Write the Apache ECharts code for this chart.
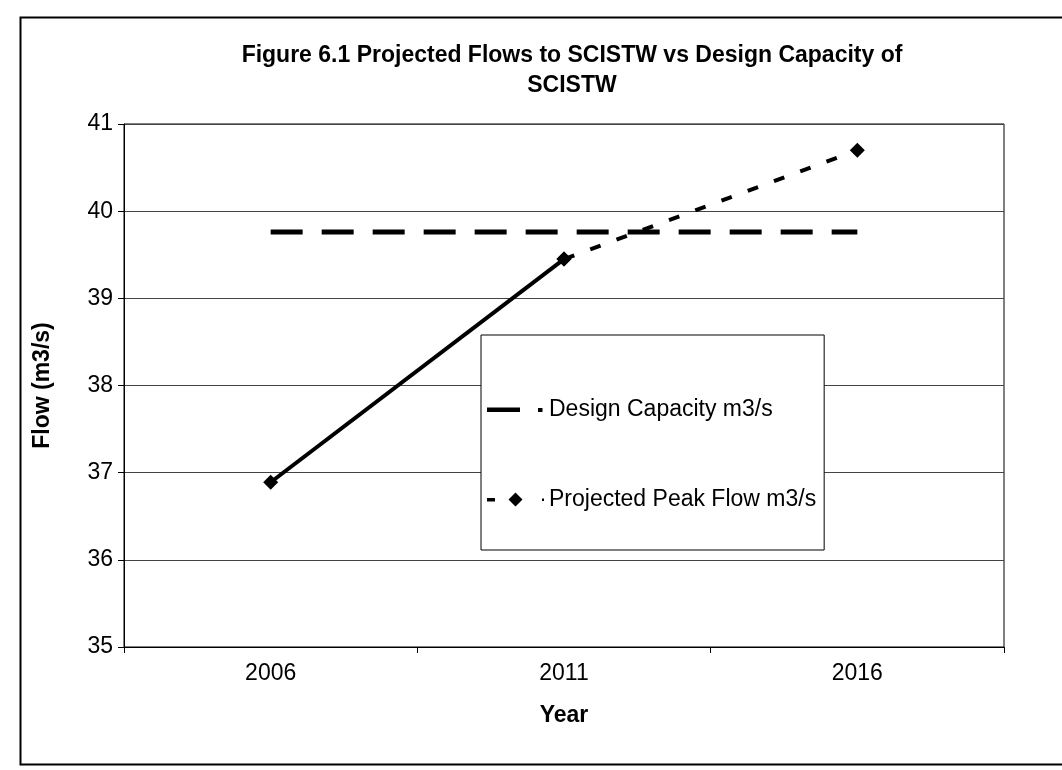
<!DOCTYPE html>
<html lang="en">
<head>
  <meta charset="utf-8"/>
  <title>Figure 6.1 Projected Flows to SCISTW</title>
  <script src="https://cdn.jsdelivr.net/npm/echarts@6/dist/echarts.min.js"></script>
  <style>
    html, body { margin: 0; padding: 0; background: #fff; }
    #chart { width: 1062px; height: 770px; }
  </style>
</head>
<body>
<div id="chart"></div>
<script>
  // data
  var years = ['2006', '2011', '2016'];
  var designCapacity = [39.76, 39.76, 39.76];
  var peakFlow = [36.89, 39.45, 40.70];
  var yTicks = [35, 36, 37, 38, 39, 40, 41];

  // 2006 -> 2011 is drawn solid, 2011 -> 2016 dashed (projection)
  var peakSolid = peakFlow.map(function (v, i) { return i <= 1 ? v : '-'; });
  var peakDashed = peakFlow.map(function (v, i) { return i >= 1 ? v : '-'; });

  // legend icons like the old spreadsheet legend (61 x 22 box, corner dots keep the scale)
  var box = 'M0,0 L0.01,0 L0.01,0.01 Z M61,22 L60.99,22 L60.99,21.99 Z ';
  var designIcon = 'path://' + box + 'M4,9 L37,9 L37,13.5 L4,13.5 Z M55,9.5 L59.5,9.5 L59.5,13.5 L55,13.5 Z';
  var peakIcon = 'path://' + box + 'M4,9.5 L12,9.5 L12,13 L4,13 Z M32.5,4 L39.5,11 L32.5,18 L25.5,11 Z M59,10 L61,10 L61,12.5 L59,12.5 Z';

  var font = 'Liberation Sans, Arial, sans-serif';
  var chart = echarts.init(document.getElementById('chart'));

  var option = {
    backgroundColor: '#fff',
    animation: false,
    graphic: [{
      type: 'rect',
      left: 18, top: 15,
      shape: { width: 1100, height: 747 },
      style: { fill: 'none', stroke: '#000', lineWidth: 2 }
    }],
    title: {
      text: 'Figure 6.1 Projected Flows to SCISTW vs Design Capacity of\nSCISTW',
      left: 567,
      top: 36,
      textAlign: 'center',
      textStyle: { fontFamily: font, fontSize: 23, fontWeight: 'bold', color: '#000', lineHeight: 30 }
    },
    legend: {
      orient: 'vertical',
      left: 481,
      top: 335,
      padding: [63, 8, 39, 2],
      itemGap: 67,
      itemWidth: 61,
      itemHeight: 22,
      borderColor: '#000',
      borderWidth: 1,
      backgroundColor: '#fff',
      data: [
        { name: 'Design Capacity m3/s', icon: designIcon },
        { name: 'Projected Peak Flow m3/s', icon: peakIcon }
      ],
      textStyle: { fontFamily: font, fontSize: 23, color: '#000' }
    },
    grid: {
      left: 124, right: 58, top: 124, bottom: 123,
      show: true, borderColor: '#000', borderWidth: 1
    },
    xAxis: {
      type: 'category',
      data: years,
      boundaryGap: true,
      name: 'Year',
      nameLocation: 'middle',
      nameGap: 57,
      nameTextStyle: { fontFamily: font, fontSize: 23, fontWeight: 'bold', color: '#000' },
      axisLine: { lineStyle: { color: '#000', width: 1 } },
      axisTick: { show: true, length: 6, lineStyle: { color: '#000' } },
      axisLabel: { fontFamily: font, fontSize: 23, color: '#000', margin: 15 }
    },
    yAxis: {
      type: 'value',
      min: yTicks[0],
      max: yTicks[yTicks.length - 1],
      interval: 1,
      name: 'Flow (m3/s)',
      nameLocation: 'middle',
      nameRotate: 90,
      nameGap: 70,
      nameTextStyle: { fontFamily: font, fontSize: 23, fontWeight: 'bold', color: '#000' },
      axisLine: { show: true, lineStyle: { color: '#000', width: 1 } },
      axisTick: { show: true, length: 6, lineStyle: { color: '#000' } },
      axisLabel: { fontFamily: font, fontSize: 23, color: '#000', margin: 11 },
      splitLine: { show: true, lineStyle: { color: '#444', width: 1 } }
    },
    series: [
      {
        name: 'Design Capacity m3/s',
        type: 'line',
        data: designCapacity,
        symbol: 'none',
        lineStyle: { color: '#000', width: 5, type: [32, 19] },
        itemStyle: { color: '#000' },
        z: 2
      },
      {
        name: 'Projected Peak Flow (existing)',
        type: 'line',
        data: peakSolid,
        symbol: 'diamond',
        symbolSize: 15,
        lineStyle: { color: '#000', width: 4, type: 'solid' },
        itemStyle: { color: '#000' },
        z: 3
      },
      {
        name: 'Projected Peak Flow m3/s',
        type: 'line',
        data: peakDashed,
        symbol: 'diamond',
        symbolSize: 15,
        lineStyle: { color: '#000', width: 4, type: [11, 17] },
        itemStyle: { color: '#000' },
        z: 3
      }
    ]
  };

  chart.setOption(option);
</script>
</body>
</html>
